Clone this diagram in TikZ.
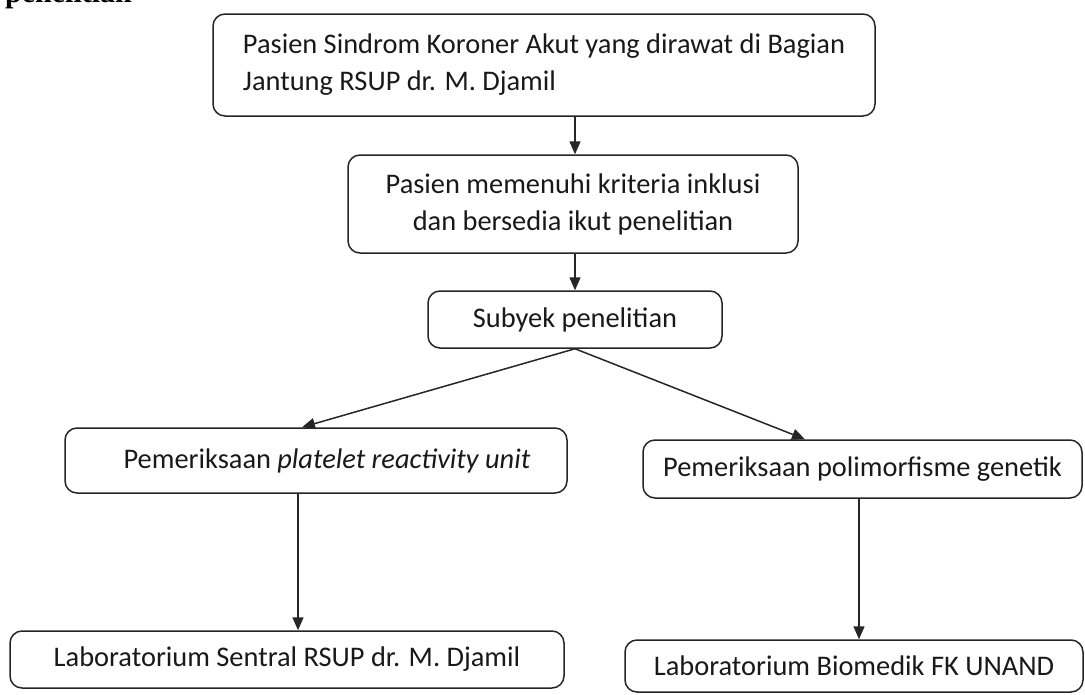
\documentclass[tikz,border=0pt]{standalone}
\usepackage{fontspec}
\setmainfont{Carlito}
\newfontfamily\headfont{Liberation Serif}
\usetikzlibrary{arrows.meta,calc}
\tikzset{
  flowbox/.style={draw=black!85, line width=1.5pt, rounded corners=12pt, inner sep=0pt, text=black!90,
    font=\fontsize{28.4}{37}\selectfont},
  conn/.style={draw=black!85, line width=1.5pt, -{Triangle[length=13pt,width=11pt]}}
}
\begin{document}
\begin{tikzpicture}[x=1pt,y=-1pt]
\clip (0,0) rectangle (1085,694);
\fill[white] (0,0) rectangle (1085,694);
\node[font=\headfont\bfseries\fontsize{30}{30}\selectfont, anchor=base west, inner sep=0pt] (head) at (5,2) {penelitian};
\node[flowbox, minimum width=662pt, minimum height=102pt, align=left] (b1) at (544,65)
  {Pasien Sindrom Koroner Akut yang dirawat di Bagian\\Jantung RSUP dr. M. Djamil};
\node[flowbox, minimum width=450pt, minimum height=98pt, align=center] (b2) at (573,204)
  {Pasien memenuhi kriteria inklusi\\dan bersedia ikut penelitian};
\node[flowbox, minimum width=294pt, minimum height=57pt] (b3) at (575,319.5) {Subyek penelitian};
\node[flowbox, minimum width=502pt, minimum height=65pt] (b4) at (316,460.5) {\hspace*{22pt}Pemeriksaan \textit{platelet reactivity unit}};
\node[flowbox, minimum width=439pt, minimum height=58pt] (b5) at (862.5,469) {Pemeriksaan polimorfisme genetik};
\node[flowbox, minimum width=554pt, minimum height=57pt] (b6) at (287,659.5) {Laboratorium Sentral RSUP dr. M. Djamil};
\node[flowbox, minimum width=458pt, minimum height=52pt] (b7) at (854,666) {Laboratorium Biomedik FK UNAND};
\coordinate (t4) at (b4.north -| 302,0);
\coordinate (t5) at (b5.north -| 805,0);
\draw[conn] (b3.north |- b1.south) -- (b3.north |- b2.north);
\draw[conn] (b3.north |- b2.south) -- (b3.north);
\draw[conn] (b3.south) -- (t4);
\draw[conn] (b3.south) -- (t5);
\draw[conn] ([xshift=-18pt]b4.south) -- ([xshift=-18pt]b4.south |- b6.north);
\draw[conn] ([xshift=-3.5pt]b5.south) -- ([xshift=-3.5pt]b5.south |- b7.north);
\end{tikzpicture}
\end{document}
